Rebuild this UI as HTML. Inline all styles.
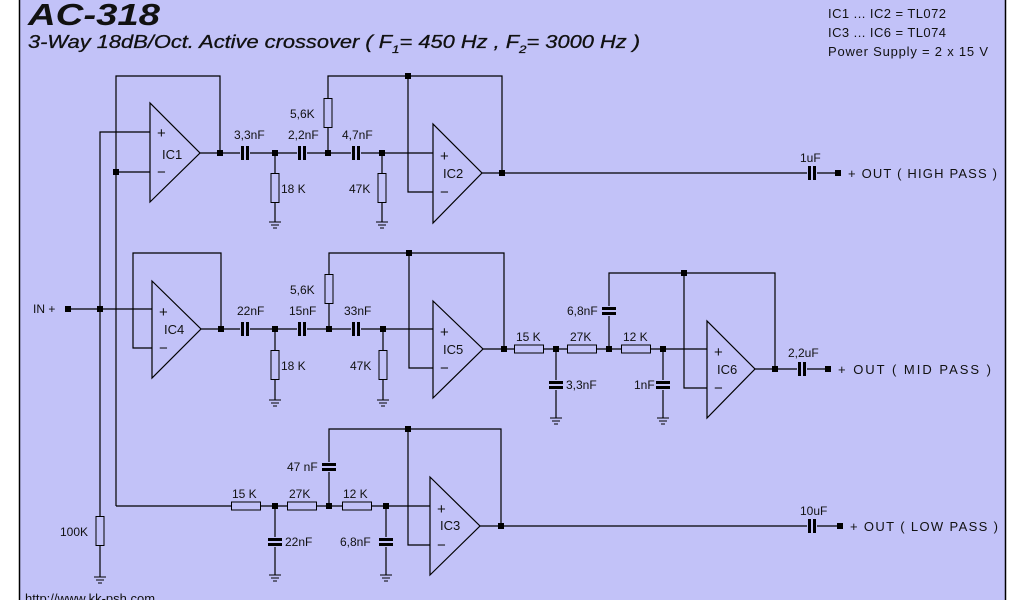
<!DOCTYPE html>
<html><head><meta charset="utf-8"><style>
body{margin:0;background:#fff;width:1024px;height:600px;overflow:hidden}
svg{display:block}
text{font-family:"Liberation Sans",sans-serif;font-size:12px;fill:#111}
</style></head><body>
<svg width="1024" height="600" viewBox="0 0 1024 600">
<defs>
<g id="ch"><rect x="-5" y="-4" width="10" height="8" fill="#c2c2f8"/><rect x="-4" y="-7" width="3" height="14" fill="#000"/><rect x="1" y="-7" width="3" height="14" fill="#000"/></g>
<g id="cv"><rect x="-4" y="-5" width="8" height="10" fill="#c2c2f8"/><rect x="-7" y="-4" width="14" height="3" fill="#000"/><rect x="-7" y="1" width="14" height="3" fill="#000"/></g>
<rect id="rh" x="-14.5" y="-4" width="29" height="8" fill="#c2c2f8" stroke="#000" stroke-width="1"/>
<rect id="rv" x="-4" y="-14.5" width="8" height="29" fill="#c2c2f8" stroke="#000" stroke-width="1"/>
<g id="g" stroke="#000" stroke-width="1"><line x1="-6" y1="0" x2="6" y2="0"/><line x1="-4" y1="3" x2="4" y2="3"/><line x1="-2" y1="6" x2="2" y2="6"/></g>
<rect id="d" x="-3" y="-3" width="6" height="6" fill="#000"/>
</defs>
<rect x="0" y="0" width="1024" height="600" fill="#fff"/>
<rect x="19.5" y="-2" width="986" height="604" fill="#c2c2f8" stroke="#000" stroke-width="1.5"/>
<text x="28" y="25" textLength="132" lengthAdjust="spacingAndGlyphs" style="font-size:31px;font-weight:bold;font-style:italic">AC-318</text>
<text x="28" y="48" style="font-size:18px;font-style:italic;stroke:#111;stroke-width:0.3" textLength="612" lengthAdjust="spacingAndGlyphs">3-Way 18dB/Oct. Active crossover  ( F<tspan dy="5" font-size="11">1</tspan><tspan dy="-5">= 450 Hz , F</tspan><tspan dy="5" font-size="11">2</tspan><tspan dy="-5">= 3000 Hz )</tspan></text>
<text x="828" y="18" style="font-size:13px" textLength="118">IC1 ... IC2 = TL072</text>
<text x="828" y="37" style="font-size:13px" textLength="118">IC3 ... IC6 = TL074</text>
<text x="828" y="56" style="font-size:13px" textLength="160">Power Supply = 2 x 15 V</text>
<text x="25" y="603" style="font-size:13px">http://www.kk-psh.com</text>

<g stroke="#000" stroke-width="1.2" fill="none">
<polygon points="150,103 150,202 200,153" fill="none"/>
<polyline points="100,546 100,132 150,132"/>
<polyline points="116,506 116,76 220,76 220,153"/>
<line x1="116" y1="172" x2="150" y2="172"/>
<line x1="200" y1="153" x2="433" y2="153"/>
<polyline points="328,153 328,76 502,76 502,173"/>
<polyline points="408,76 408,192 433,192"/>
<polygon points="433,124 433,223 482,173"/>
<line x1="482" y1="173" x2="838" y2="173"/>
<line x1="275" y1="153" x2="275" y2="222"/>
<line x1="382" y1="153" x2="382" y2="222"/>
<line x1="68" y1="309" x2="152" y2="309"/>
<polygon points="152,281 152,378 201,329"/>
<polyline points="152,348 133,348 133,253 221,253 221,329"/>
<line x1="201" y1="329" x2="433" y2="329"/>
<polyline points="329,329 329,253 504,253 504,349"/>
<polyline points="409,253 409,368 433,368"/>
<polygon points="433,301 433,398 483,349"/>
<line x1="483" y1="349" x2="707" y2="349"/>
<line x1="275" y1="329" x2="275" y2="400"/>
<line x1="383" y1="329" x2="383" y2="400"/>
<polyline points="609,349 609,273 775,273 775,369"/>
<polyline points="684,273 684,388 707,388"/>
<polygon points="707,321 707,418 755,369"/>
<line x1="755" y1="369" x2="828" y2="369"/>
<line x1="556" y1="349" x2="556" y2="418"/>
<line x1="663" y1="349" x2="663" y2="418"/>
<line x1="116" y1="506" x2="430" y2="506"/>
<polyline points="329,506 329,429 501,429 501,526"/>
<polyline points="408,429 408,545 430,545"/>
<polygon points="430,477 430,575 480,526"/>
<line x1="480" y1="526" x2="840" y2="526"/>
<line x1="275" y1="506" x2="275" y2="575"/>
<line x1="386" y1="506" x2="386" y2="575"/>
<line x1="100" y1="546" x2="100" y2="577"/>
</g>

<use href="#ch" x="245" y="153"/><use href="#ch" x="302" y="153"/><use href="#ch" x="356" y="153"/>
<use href="#rv" x="328" y="113"/><use href="#rv" x="275" y="188"/><use href="#rv" x="382" y="188"/>
<use href="#g" x="275" y="222"/><use href="#g" x="382" y="222"/>
<use href="#ch" x="812" y="173"/>
<use href="#d" x="220" y="153"/><use href="#d" x="116" y="172"/><use href="#d" x="275" y="153"/><use href="#d" x="328" y="153"/><use href="#d" x="382" y="153"/><use href="#d" x="408" y="76"/><use href="#d" x="502" y="173"/><use href="#d" x="838" y="173"/>
<use href="#ch" x="245" y="329"/><use href="#ch" x="302" y="329"/><use href="#ch" x="356" y="329"/>
<use href="#rv" x="329" y="289"/><use href="#rv" x="275" y="365"/><use href="#rv" x="383" y="365"/>
<use href="#g" x="275" y="400"/><use href="#g" x="383" y="400"/>
<use href="#rh" x="529" y="349"/><use href="#rh" x="582" y="349"/><use href="#rh" x="636" y="349"/>
<use href="#cv" x="609" y="311"/><use href="#cv" x="556" y="385"/><use href="#cv" x="663" y="385"/>
<use href="#g" x="556" y="418"/><use href="#g" x="663" y="418"/>
<use href="#ch" x="802" y="369"/>
<use href="#d" x="68" y="309"/><use href="#d" x="100" y="309"/><use href="#d" x="221" y="329"/><use href="#d" x="275" y="329"/><use href="#d" x="329" y="329"/><use href="#d" x="383" y="329"/><use href="#d" x="409" y="253"/><use href="#d" x="504" y="349"/>
<use href="#d" x="556" y="349"/><use href="#d" x="609" y="349"/><use href="#d" x="663" y="349"/><use href="#d" x="684" y="273"/><use href="#d" x="775" y="369"/><use href="#d" x="828" y="369"/>
<use href="#rh" x="246" y="506"/><use href="#rh" x="302" y="506"/><use href="#rh" x="357" y="506"/>
<use href="#cv" x="329" y="467"/><use href="#cv" x="275" y="542"/><use href="#cv" x="386" y="542"/>
<use href="#g" x="275" y="575"/><use href="#g" x="386" y="575"/>
<use href="#rv" x="100" y="531"/><use href="#g" x="100" y="577"/>
<use href="#ch" x="812" y="526"/>
<use href="#d" x="275" y="506"/><use href="#d" x="329" y="506"/><use href="#d" x="386" y="506"/><use href="#d" x="408" y="429"/><use href="#d" x="501" y="526"/><use href="#d" x="840" y="526"/>

<text x="157" y="138" style="font-size:15px">+</text>
<text x="157" y="177" style="font-size:15px">−</text>
<text x="162" y="159" style="font-size:13px">IC1</text>
<text x="440" y="161" style="font-size:15px">+</text>
<text x="440" y="197" style="font-size:15px">−</text>
<text x="443" y="178" style="font-size:13px">IC2</text>
<text x="159" y="317" style="font-size:15px">+</text>
<text x="159" y="353" style="font-size:15px">−</text>
<text x="164" y="334" style="font-size:13px">IC4</text>
<text x="440" y="337" style="font-size:15px">+</text>
<text x="440" y="373" style="font-size:15px">−</text>
<text x="443" y="354" style="font-size:13px">IC5</text>
<text x="714" y="357" style="font-size:15px">+</text>
<text x="714" y="393" style="font-size:15px">−</text>
<text x="717" y="374" style="font-size:13px">IC6</text>
<text x="437" y="514" style="font-size:15px">+</text>
<text x="437" y="550" style="font-size:15px">−</text>
<text x="440" y="530" style="font-size:13px">IC3</text>

<text x="234" y="139">3,3nF</text><text x="288" y="139">2,2nF</text><text x="342" y="139">4,7nF</text>
<text x="290" y="118">5,6K</text><text x="281" y="193">18 K</text><text x="349" y="193">47K</text>
<text x="800" y="162">1uF</text>
<text x="848" y="178" style="font-size:13px" textLength="149">+ OUT   ( HIGH PASS )</text>
<text x="33" y="313">IN +</text>
<text x="237" y="315">22nF</text><text x="289" y="315">15nF</text><text x="344" y="315">33nF</text>
<text x="290" y="294">5,6K</text><text x="281" y="370">18 K</text><text x="350" y="370">47K</text>
<text x="516" y="341">15 K</text><text x="570" y="341">27K</text><text x="623" y="341">12 K</text>
<text x="567" y="315">6,8nF</text><text x="566" y="389">3,3nF</text><text x="634" y="389">1nF</text>
<text x="788" y="357">2,2uF</text>
<text x="838" y="374" style="font-size:13px" textLength="153">+ OUT   ( MID PASS )</text>
<text x="232" y="498">15 K</text><text x="289" y="498">27K</text><text x="343" y="498">12 K</text>
<text x="287" y="471">47 nF</text><text x="285" y="546">22nF</text><text x="340" y="546">6,8nF</text>
<text x="60" y="536">100K</text>
<text x="800" y="515">10uF</text>
<text x="850" y="531" style="font-size:13px" textLength="148">+ OUT   ( LOW PASS )</text>
</svg>
</body></html>
